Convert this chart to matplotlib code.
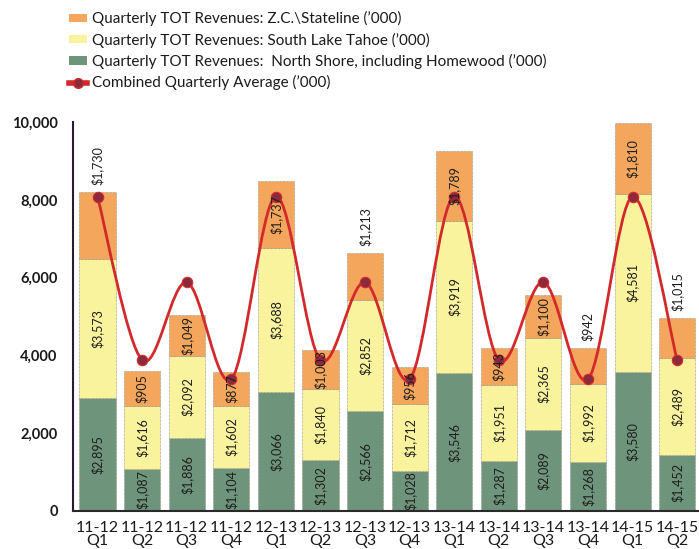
import matplotlib
matplotlib.use('Agg')
import matplotlib.pyplot as plt
from matplotlib.path import Path
from matplotlib.patches import PathPatch, Patch
from matplotlib.lines import Line2D
import numpy as np

# ---------------- data ----------------
categories = ['11-12\nQ1', '11-12\nQ2', '11-12\nQ3', '11-12\nQ4',
              '12-13\nQ1', '12-13\nQ2', '12-13\nQ3', '12-13\nQ4',
              '13-14\nQ1', '13-14\nQ2', '13-14\nQ3', '13-14\nQ4',
              '14-15\nQ1', '14-15\nQ2']
north_shore = [2895, 1087, 1886, 1104, 3066, 1302, 2566, 1028, 3546, 1287, 2089, 1268, 3580, 1452]
south_lake_tahoe = [3573, 1616, 2092, 1602, 3688, 1840, 2852, 1712, 3919, 1951, 2365, 1992, 4581, 2489]
stateline = [1730, 905, 1049, 877, 1737, 1003, 1213, 956, 1789, 943, 1100, 942, 1810, 1015]
combined_avg = [8080, 3880, 5880, 3390, 8080, 3880, 5880, 3390, 8080, 3880, 5880, 3390, 8080, 3880]
y_ticks = [0, 2000, 4000, 6000, 8000, 10000]
stateline_labels_above = [0, 6, 11, 13]

legend_labels = ["Quarterly TOT Revenues: Z.C.\\Stateline (\u2019000)",
                 "Quarterly TOT Revenues: South Lake Tahoe (\u2019000)",
                 "Quarterly TOT Revenues:  North Shore, including Homewood (\u2019000)",
                 "Combined Quarterly Average (\u2019000)"]

# ---------------- style ----------------
C_ORANGE = '#F3A65C'
C_YELLOW = '#FAF39E'
C_GREEN = '#6E947B'
C_RED = '#D22A2C'
C_MARK = '#8C2A3B'
FONT = ['Lato', 'DejaVu Sans']
LABEL_FONT = ['Lato', 'DejaVu Sans']

plt.rcParams['font.family'] = FONT

W, H = 699, 549
fig = plt.figure(figsize=(W / 100, H / 100), dpi=100)
ax = fig.add_axes([73 / W, (H - 511) / H, (W - 73) / W, (511 - 122) / H])

n = len(categories)
x = np.arange(n)
bw = 0.81
edge = dict(edgecolor='#8a8a7a', linewidth=0.5, linestyle=(0, (1, 1)))

ax.bar(x, north_shore, bw, color=C_GREEN, zorder=2, **edge)
bottom2 = np.array(north_shore)
ax.bar(x, south_lake_tahoe, bw, bottom=bottom2, color=C_YELLOW, zorder=2, **edge)
bottom3 = bottom2 + np.array(south_lake_tahoe)
ax.bar(x, stateline, bw, bottom=bottom3, color=C_ORANGE, zorder=2, **edge)
tops = bottom3 + np.array(stateline)

lab_kw = dict(rotation=90, ha='center', fontsize=9, color='#1e1e1e',
              family=LABEL_FONT, zorder=6)
for i in range(n):
    ax.text(x[i], north_shore[i] / 2, f"${north_shore[i]:,}", va='center', **lab_kw)
    ax.text(x[i], bottom2[i] + south_lake_tahoe[i] / 2, f"${south_lake_tahoe[i]:,}",
            va='center', **lab_kw)
    if i in stateline_labels_above:
        ax.annotate(f"${stateline[i]:,}", (x[i], tops[i]), xytext=(0, 5),
                    textcoords='offset points', va='bottom', **lab_kw)
    else:
        ax.text(x[i], bottom3[i] + stateline[i] / 2, f"${stateline[i]:,}",
                va='center', **lab_kw)

# smooth combined average line (Catmull-Rom as cubic Bezier in data space)
yv = np.array(combined_avg, dtype=float)
pts = np.column_stack([x, yv])
verts = [tuple(pts[0])]
codes = [Path.MOVETO]
for i in range(n - 1):
    p0 = pts[i - 1] if i > 0 else pts[i]
    p1 = pts[i]
    p2 = pts[i + 1]
    p3 = pts[i + 2] if i + 2 < n else pts[i + 1]
    c1 = p1 + (p2 - p0) / 6
    c2 = p2 - (p3 - p1) / 6
    verts += [tuple(c1), tuple(c2), tuple(p2)]
    codes += [Path.CURVE4] * 3
ax.add_patch(PathPatch(Path(verts, codes), fill=False, edgecolor=C_RED,
                       linewidth=2.0, zorder=4, capstyle='round', joinstyle='round'))
ax.plot(x, yv, linestyle='none', marker='o', markersize=7.5, markerfacecolor=C_MARK,
        markeredgecolor=C_RED, markeredgewidth=0.8, zorder=5)

ax.set_xlim(-0.55, n - 1 + 0.49)
ax.set_ylim(0, 10000)
ax.set_yticks(y_ticks)
ax.set_yticklabels([f"{v:,}" for v in y_ticks], fontsize=10.5, fontweight='bold', color='#1a1a1a')
ax.set_xticks(x)
ax.set_xticklabels(categories, fontsize=11.5, color='#1a1a1a', linespacing=0.9)
ax.tick_params(axis='both', length=0)
ax.tick_params(axis='y', pad=11)
ax.tick_params(axis='x', pad=7)
for s in ['top', 'right']:
    ax.spines[s].set_visible(False)
ax.spines['left'].set_color('#2a1b33')
ax.spines['left'].set_linewidth(1.5)
ax.spines['bottom'].set_color('#2a2a2a')
ax.spines['bottom'].set_linewidth(1.5)
ax.set_facecolor('white')

handles = [Patch(facecolor=C_ORANGE, edgecolor='none'),
           Patch(facecolor=C_YELLOW, edgecolor='none'),
           Patch(facecolor=C_GREEN, edgecolor='none'),
           Line2D([], [], color=C_RED, linewidth=4, marker='o', markersize=7,
                  markerfacecolor=C_MARK, markeredgecolor=C_RED)]
fig.legend(handles, legend_labels, loc='upper left', bbox_to_anchor=(69 / W, 1 - 11 / H),
           frameon=False, fontsize=11, handlelength=1.2, handleheight=0.45,
           handletextpad=0.3, labelspacing=0.42, borderpad=0, borderaxespad=0,
           labelcolor='#1a1a1a')

fig.savefig('out.png', dpi=100, facecolor='white')
